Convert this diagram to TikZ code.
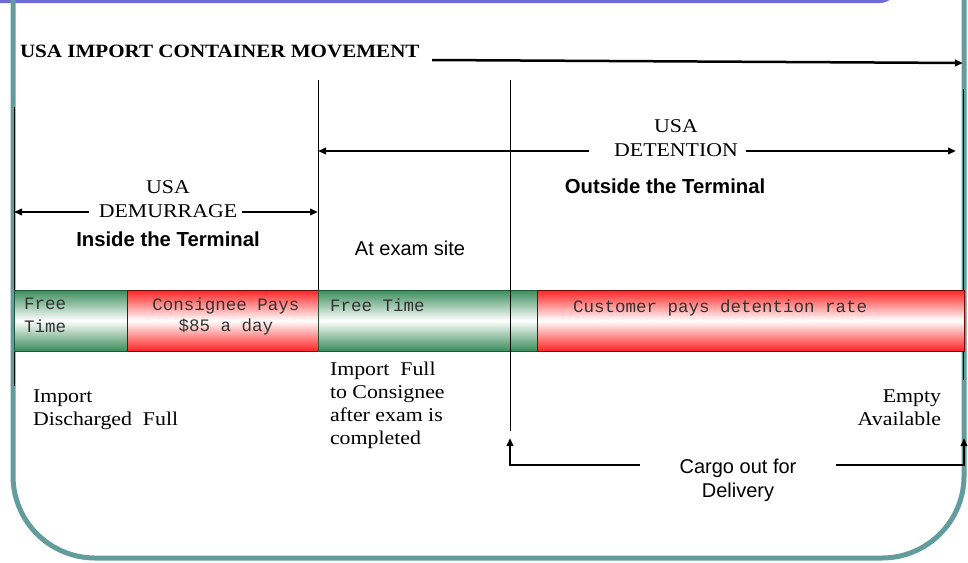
\documentclass[tikz,border=0pt]{standalone}
\usepackage{fontspec}
\setmainfont{Liberation Serif}[FakeStretch=1.12]
\setsansfont{Liberation Sans}
\setmonofont{Liberation Mono}
\usetikzlibrary{arrows.meta}
\definecolor{teal1}{RGB}{98,156,156}
\definecolor{purp}{RGB}{108,108,212}
\definecolor{gcell}{RGB}{58,140,90}
\definecolor{gline}{RGB}{28,88,52}
\definecolor{rcell}{RGB}{255,35,35}
\definecolor{rline}{RGB}{110,10,10}
\begin{document}
\begin{tikzpicture}[x=1pt,y=-1pt,
  every node/.style={inner sep=0pt, outer sep=0pt},
  arr/.style={-{Triangle[length=8pt,width=6.5pt]}, line width=2pt},
  vline/.style={line width=1pt, black},
  serif/.style={font=\fontsize{19.5}{23.3}\selectfont},
  titlef/.style={font=\bfseries\fontsize{18.8}{23}\selectfont},
  ssans/.style={font=\sffamily\fontsize{20}{24}\selectfont},
  bsans/.style={font=\sffamily\bfseries\fontsize{20.3}{24}\selectfont},
  mono/.style={font=\ttfamily\fontsize{17.5}{23}\selectfont, text=black!80},
  monob/.style={font=\ttfamily\fontsize{17.5}{21}\selectfont, text=black!80},
  gcellst/.style={draw=gline, line width=0.9pt, top color=gcell, bottom color=gcell, middle color=white, anchor=north west, minimum height=61pt},
  rcellst/.style={draw=rline, line width=0.9pt, top color=rcell, bottom color=rcell, middle color=white, anchor=north west, minimum height=61pt},
]
\useasboundingbox (0,0) rectangle (968,562);
\begin{scope}
  \clip (0,0) rectangle (968,562);
  \fill[purp, rounded corners=16pt] (-20,-40) rectangle (896,3);
  \draw[teal1, line width=5pt, rounded corners=82pt] (13,-20) -- (13,558) -- (964,558) -- (964,-20);
\end{scope}

% title arrow
\node[titlef, anchor=base west] (title) at (20,57) {USA IMPORT CONTAINER MOVEMENT};
\coordinate (ta) at (432,60);
\coordinate (tb) at (963,63);
\draw[arr, line width=2.5pt] (ta) -- (tb);

% boundary lines
\coordinate (lt) at (14,107); \coordinate (lb) at (14,386);
\coordinate (rt) at (963,89); \coordinate (rb) at (963,380);
\coordinate (v1t) at (318,80);
\coordinate (v2t) at (510,80); \coordinate (v2b) at (510,431);
\draw[vline] (lt) -- (lb);
\draw[vline] (rt) -- (rb);

% bar cells
\node[gcellst, minimum width=113pt] (c1) at (14,290) {};
\node[rcellst, minimum width=191pt] (c2) at (127,290) {};
\node[gcellst, minimum width=219pt] (c3) at (318,290) {};
\node[rcellst, minimum width=427pt] (c4) at (537,290) {};
\draw[vline] (v1t) -- (c2.north east);
\draw[vline] (v2t) -- (v2b);

\node[mono, anchor=base west] (t1) at (24,309) {\begin{tabular}[t]{@{}l@{}}Free\\Time\end{tabular}};
\node[monob, anchor=base] (t2) at (226,310) {\begin{tabular}[t]{@{}c@{}}Consignee Pays\\\$85 a day\end{tabular}};
\node[mono, anchor=base west] (t3) at (330,311) {Free Time};
\node[mono, anchor=base west] (t4) at (573,312) {Customer pays detention rate};

% demurrage
\node[serif, anchor=base] (demu) at (168,193) {USA};
\node[serif, anchor=base] (demw) at (168,217) {DEMURRAGE};
\coordinate (dml) at (14,212); \coordinate (dmr) at (318,212);
\draw[arr] ([xshift=-10pt]demw.west |- dml) -- (dml);
\draw[arr] ([xshift=5pt]demw.east |- dmr) -- (dmr);
\node[bsans, anchor=base] (inside) at (168,246) {Inside the Terminal};

% detention
\node[serif, anchor=base] (detu) at (676,132) {USA};
\node[serif, anchor=base] (detw) at (676,156) {DETENTION};
\coordinate (dtl) at (318,151); \coordinate (dtr) at (956,151);
\draw[arr] ([xshift=-25pt]detw.west |- dtl) -- (dtl);
\draw[arr] ([xshift=8pt]detw.east |- dtr) -- (dtr);
\node[bsans, anchor=base] (outside) at (665,193) {Outside the Terminal};
\node[ssans, anchor=base] (exam) at (410,255) {At exam site};

% lower labels
\node[serif, anchor=base west] (disch) at (33,402) {\begin{tabular}[t]{@{}l@{}}Import\\Discharged\ \ Full\end{tabular}};
\node[serif, anchor=base west] (tocons) at (330,375) {\begin{tabular}[t]{@{}l@{}}Import\ \ Full\\to Consignee\\after exam is\\completed\end{tabular}};
\node[serif, anchor=base east] (empty) at (941,402) {\begin{tabular}[t]{@{}r@{}}Empty\\Available\end{tabular}};

% cargo
\node[ssans, anchor=base] (cargo) at (738,473) {Cargo out for};
\node[ssans, anchor=base] (deliv) at (738,497) {Delivery};
\coordinate (cgl) at (510,438); \coordinate (cgr) at (964,438);
\coordinate (cy) at (0,465);
\draw[arr] ([xshift=-40pt]cargo.west |- cy) -| (cgl);
\draw[arr] ([xshift=40pt]cargo.east |- cy) -| (cgr);
\end{tikzpicture}
\end{document}
